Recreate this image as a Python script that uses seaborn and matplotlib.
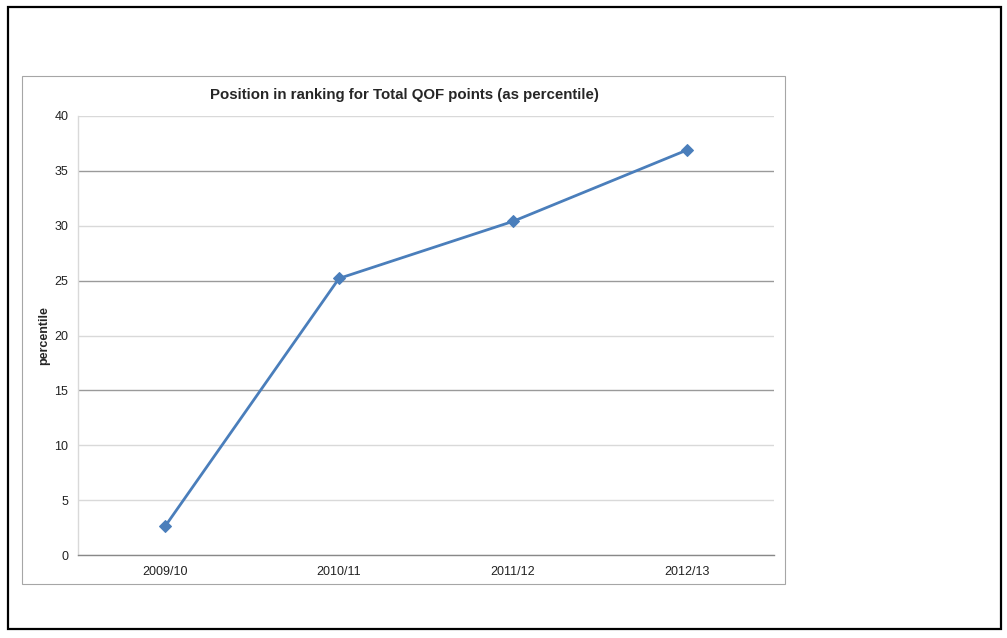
import matplotlib
matplotlib.use("Agg")
import numpy as np
import pandas as pd
import matplotlib.pyplot as plt
from matplotlib.patches import Rectangle
import seaborn as sns

# values
seasons = ["2009/10", "2010/11", "2011/12", "2012/13"]
percentile = [2.6, 25.2, 30.4, 36.9]

df = pd.DataFrame({"season": seasons, "percentile": percentile})

sns.set_theme(style="white")
plt.rcParams["font.family"] = ["Liberation Sans", "DejaVu Sans"]

W, H = 1007, 638
fig = plt.figure(figsize=(W / 100, H / 100), dpi=100)
ax = fig.add_axes([78 / W, 1 - 555 / H, (774 - 78) / W, (555 - 116) / H])

sns.lineplot(data=df, x="season", y="percentile", ax=ax, color="#4a7ebb",
             linewidth=2, marker="D", markersize=6, markeredgecolor="#4a7ebb",
             sort=False)

ax.set_xlim(-0.5, len(seasons) - 0.5)
ax.set_ylim(0, 40)
ax.set_yticks(range(0, 41, 5))
ax.set_xticks(range(len(seasons)))
ax.set_xticklabels(seasons)
ax.set_xticks(np.arange(-0.5, len(seasons)), minor=True)
ax.tick_params(axis="x", which="major", length=0, pad=8, labelsize=9, labelcolor="#222222")
ax.tick_params(axis="x", which="minor", length=4, width=1, color="#888888", direction="out")
ax.tick_params(axis="y", length=4, width=1, color="#bbbbbb", pad=3, labelsize=9, labelcolor="#222222")

ax.grid(axis="y", color="#d9d9d9", linewidth=1)
# 15, 25 and 35 gridlines look darker in the original rendering
for tick, gl in zip(ax.get_yticks(), ax.yaxis.get_gridlines()):
    if tick in (15, 25, 35):
        gl.set_color("#9a9a9a")
ax.set_axisbelow(True)

for side in ["top", "right"]:
    ax.spines[side].set_visible(False)
ax.spines["left"].set_color("#d9d9d9")
ax.spines["left"].set_linewidth(1)
ax.spines["bottom"].set_color("#888888")
ax.spines["bottom"].set_linewidth(1)

ax.set_xlabel("")
ax.set_ylabel("percentile", fontsize=9, fontweight="bold", labelpad=3)

fig.text(404 / W, 1 - 95 / H, "Position in ranking for Total QOF points (as percentile)",
         ha="center", va="center", fontsize=10.8, fontweight="bold")

# chart frame and outer box
fig.add_artist(Rectangle((22 / W, 1 - 584 / H), (785 - 22) / W, (584 - 76) / H,
                         transform=fig.transFigure, fill=False, edgecolor="#a6a6a6", linewidth=0.8))
fig.add_artist(Rectangle((8 / W, 1 - 629 / H), (1001 - 8) / W, (629 - 7) / H,
                         transform=fig.transFigure, fill=False, edgecolor="black", linewidth=1.6))

fig.savefig("out.png", dpi=100)
